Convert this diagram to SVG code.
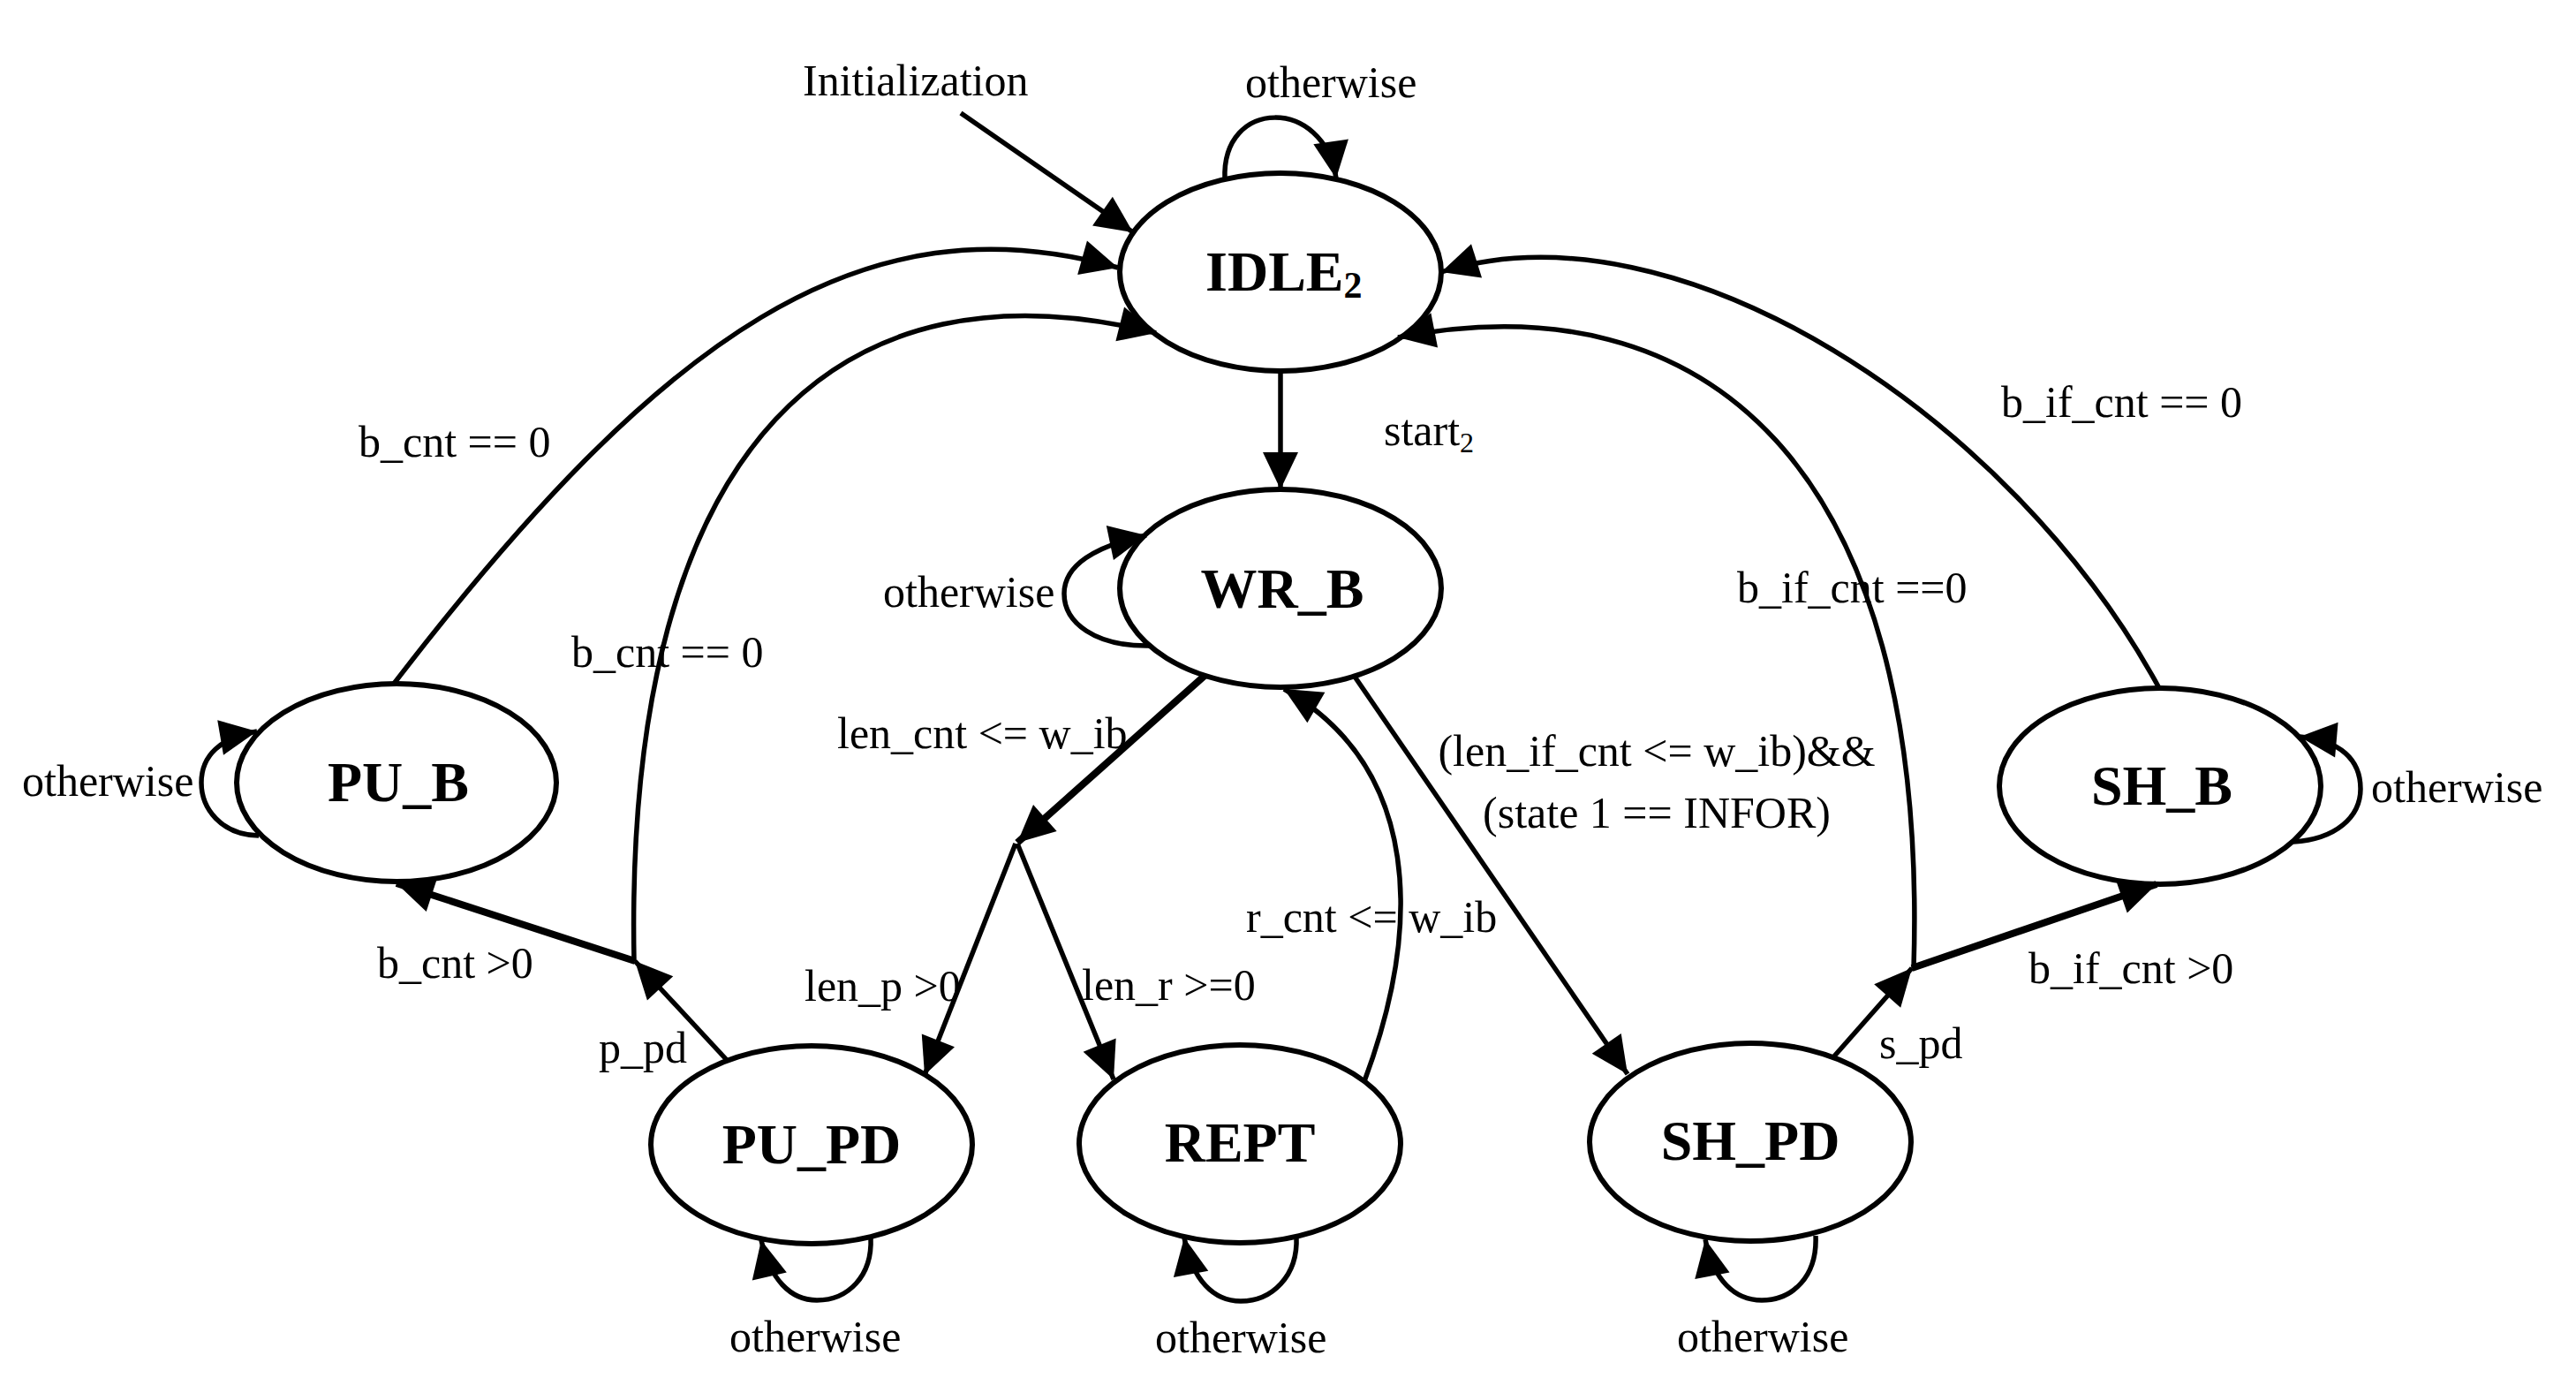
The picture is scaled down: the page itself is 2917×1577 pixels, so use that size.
<svg xmlns="http://www.w3.org/2000/svg" width="2917" height="1577" viewBox="0 0 2917 1577">
<style>
.node ellipse{fill:#fff;stroke:#000;stroke-width:6}
.node text{font-family:"Liberation Serif","Times New Roman",serif;font-weight:bold;font-size:64px;text-anchor:middle;fill:#000}
.edges path{fill:none;stroke:#000;stroke-width:5.5}
.edges path.thick{stroke-width:8}
.edges path.arr{marker-end:url(#ah)}
.lbl text{font-family:"Liberation Serif","Times New Roman",serif;font-size:50px;fill:#000}
</style>
<defs>
<marker id="ah" markerUnits="userSpaceOnUse" markerWidth="44" markerHeight="42" refX="42" refY="20" orient="auto" overflow="visible">
<path d="M0,0 L42,20 L0,40 Z" fill="#000"/>
</marker>
</defs>
<rect width="2917" height="1577" fill="#fff"/>
<g id="n-idle" class="node"><ellipse cx="1450" cy="308" rx="182" ry="112"/><text x="1365" y="329" style="text-anchor:start">IDLE<tspan font-size="42" dy="8">2</tspan></text></g>
<g id="n-wrb" class="node"><ellipse cx="1450" cy="666" rx="182" ry="112"/><text x="1452" y="688">WR_B</text></g>
<g id="n-pub" class="node"><ellipse cx="449" cy="886" rx="181" ry="112"/><text x="451" y="907">PU_B</text></g>
<g id="n-shb" class="node"><ellipse cx="2446" cy="890" rx="182" ry="111"/><text x="2448" y="911">SH_B</text></g>
<g id="n-pupd" class="node"><ellipse cx="919" cy="1296" rx="182" ry="112"/><text x="919" y="1317">PU_PD</text></g>
<g id="n-rept" class="node"><ellipse cx="1404" cy="1295" rx="182" ry="112"/><text x="1404" y="1315">REPT</text></g>
<g id="n-shpd" class="node"><ellipse cx="1982" cy="1293" rx="182" ry="112"/><text x="1982" y="1313">SH_PD</text></g>
<g id="connectors" class="edges">
<path class="arr" d="M1088,128 L1283,263"/>
<path class="arr" d="M1387,203 C1383,110 1500,110 1513,202"/>
<path class="arr" d="M1450,420 L1450,554"/>
<path class="arr" d="M1302,731 C1240,732 1205,705 1205,672 C1205,640 1240,618 1298,606"/>
<path class="arr thick" d="M1364,765 L1152,954"/>
<path class="arr" d="M1150,955 L1047,1217"/>
<path class="arr" d="M1152,955 L1261,1222"/>
<path class="arr" d="M1545,1224 C1610,1050 1610,870 1454,780"/>
<path class="arr" d="M1534,766 L1843,1216"/>
<path class="arr" d="M823,1200 L719,1088"/>
<path class="arr thick" d="M719,1088 L449,1000"/>
<path class="arr" d="M718,1088 C706,488 960,290 1309,377"/>
<path class="arr" d="M446,774 C751,377 977,222 1266,303"/>
<path class="arr" d="M2075,1198 L2165,1096"/>
<path class="arr thick" d="M2165,1096 L2442,1001"/>
<path class="arr" d="M2167,1096 C2185,520 1926,315 1583,382"/>
<path class="arr" d="M2445,779 C2277,470 1898,224 1632,308"/>
<path class="arr" d="M293,946 C250,945 228,915 228,886 C228,855 250,835 291,828"/>
<path class="arr" d="M2597,953 C2645,950 2673,925 2673,893 C2673,860 2650,838 2604,834"/>
<path class="arr" d="M986,1401 C988,1445 960,1472 925,1472 C895,1472 872,1448 862,1404"/>
<path class="arr" d="M1468,1400 C1470,1445 1440,1473 1405,1473 C1375,1473 1350,1450 1341,1401"/>
<path class="arr" d="M2056,1399 C2058,1445 2030,1472 1995,1472 C1965,1472 1940,1450 1931,1403"/>
</g>
<g id="labels" class="lbl">
<text x="909" y="108">Initialization</text>
<text x="1410" y="110">otherwise</text>
<text x="1567" y="504">start<tspan font-size="32" dy="8">2</tspan></text>
<text x="1000" y="687">otherwise</text>
<text x="948" y="847">len_cnt &lt;= w_ib</text>
<text x="911" y="1133">len_p &gt;0</text>
<text x="1225" y="1132">len_r &gt;=0</text>
<text x="1411" y="1055">r_cnt &lt;= w_ib</text>
<text x="1876" y="867" text-anchor="middle">(len_if_cnt &lt;= w_ib)&amp;&amp;</text>
<text x="1876" y="937" text-anchor="middle">(state 1 == INFOR)</text>
<text x="406" y="517">b_cnt == 0</text>
<text x="647" y="755">b_cnt == 0</text>
<text x="2266" y="472">b_if_cnt == 0</text>
<text x="1967" y="682">b_if_cnt ==0</text>
<text x="25" y="901">otherwise</text>
<text x="2685" y="908">otherwise</text>
<text x="427" y="1107">b_cnt &gt;0</text>
<text x="678" y="1203">p_pd</text>
<text x="2128" y="1198">s_pd</text>
<text x="2297" y="1113">b_if_cnt &gt;0</text>
<text x="826" y="1530">otherwise</text>
<text x="1308" y="1531">otherwise</text>
<text x="1899" y="1530">otherwise</text>
</g>
</svg>
